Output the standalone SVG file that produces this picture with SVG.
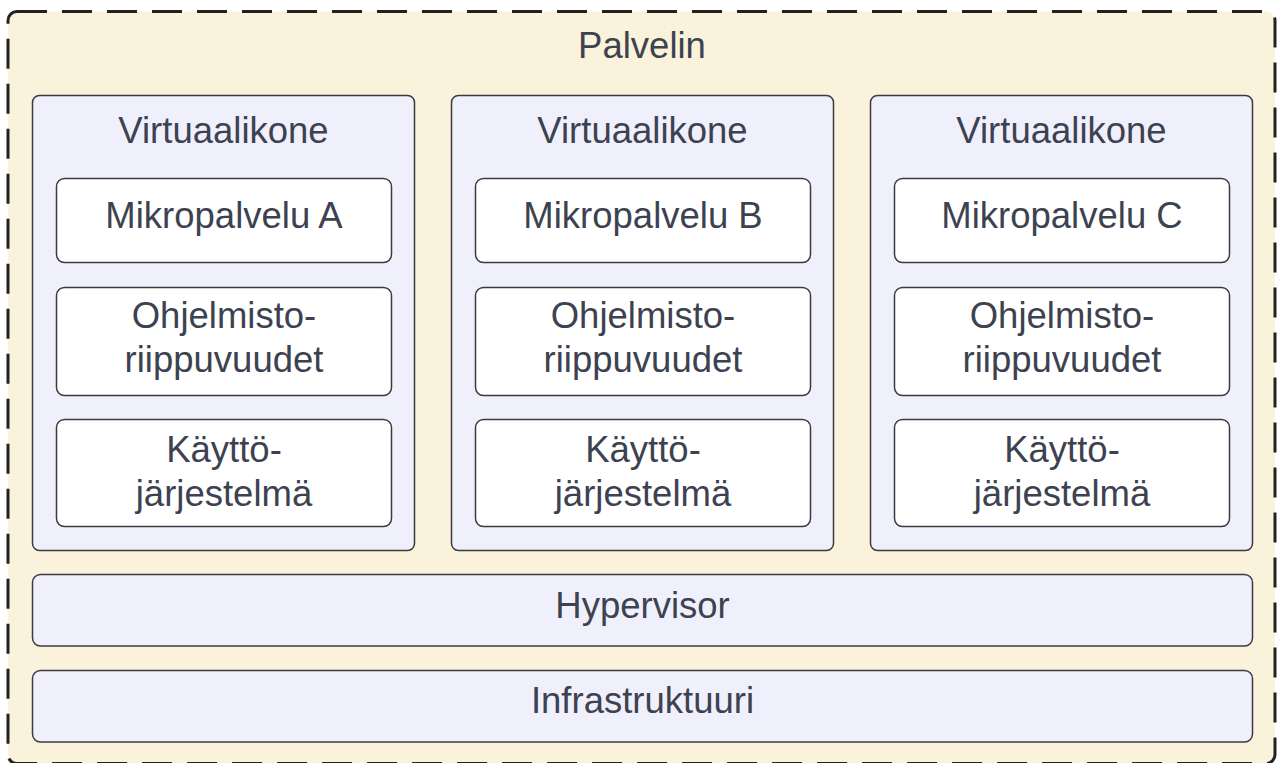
<svg xmlns="http://www.w3.org/2000/svg" width="1277" height="763" viewBox="0 0 1277 763">
  <style>
    .server { fill: #fbf2dc; stroke: #222; stroke-width: 3; stroke-dasharray: 30 15; }
    .vm { fill: #f0f0fd; stroke: #3a3a40; stroke-width: 1.5; }
    .layer { fill: #ffffff; stroke: #3a3a40; stroke-width: 1.5; }
    .band { fill: #f0f0fd; stroke: #3a3a40; stroke-width: 1.5; }
    text { font-family: "Liberation Sans", Arial, sans-serif; font-size: 36.5px; fill: #3d4250; text-anchor: middle; }
  </style>
  <rect width="1277" height="763" fill="#ffffff"/>

  <g id="palvelin">
    <rect class="server" x="8" y="11.5" width="1267" height="752" rx="9"/>
    <text x="642" y="57.7">Palvelin</text>
  </g>

  <g id="vm-a">
    <rect class="vm" x="32.5" y="95.5" width="382" height="455" rx="7"/>
    <text x="223.5" y="142.7">Virtuaalikone</text>
  </g>
  <g id="mikropalvelu-a">
    <rect class="layer" x="56.5" y="178.5" width="335" height="84" rx="8"/>
    <text x="224" y="228.3">Mikropalvelu A</text>
  </g>
  <g id="riippuvuudet-a">
    <rect class="layer" x="56.5" y="287.5" width="335" height="108" rx="8"/>
    <text x="224" y="327.7">Ohjelmisto-</text>
    <text x="224" y="371.7">riippuvuudet</text>
  </g>
  <g id="os-a">
    <rect class="layer" x="56.5" y="419.5" width="335" height="107" rx="8"/>
    <text x="224" y="461.7">Käyttö-</text>
    <text x="224" y="505.7">järjestelmä</text>
  </g>

  <g id="vm-b">
    <rect class="vm" x="451.5" y="95.5" width="382" height="455" rx="7"/>
    <text x="642.5" y="142.7">Virtuaalikone</text>
  </g>
  <g id="mikropalvelu-b">
    <rect class="layer" x="475.5" y="178.5" width="335" height="84" rx="8"/>
    <text x="643" y="228.3">Mikropalvelu B</text>
  </g>
  <g id="riippuvuudet-b">
    <rect class="layer" x="475.5" y="287.5" width="335" height="108" rx="8"/>
    <text x="643" y="327.7">Ohjelmisto-</text>
    <text x="643" y="371.7">riippuvuudet</text>
  </g>
  <g id="os-b">
    <rect class="layer" x="475.5" y="419.5" width="335" height="107" rx="8"/>
    <text x="643" y="461.7">Käyttö-</text>
    <text x="643" y="505.7">järjestelmä</text>
  </g>

  <g id="vm-c">
    <rect class="vm" x="870.5" y="95.5" width="382" height="455" rx="7"/>
    <text x="1061.5" y="142.7">Virtuaalikone</text>
  </g>
  <g id="mikropalvelu-c">
    <rect class="layer" x="894.5" y="178.5" width="335" height="84" rx="8"/>
    <text x="1062" y="228.3">Mikropalvelu C</text>
  </g>
  <g id="riippuvuudet-c">
    <rect class="layer" x="894.5" y="287.5" width="335" height="108" rx="8"/>
    <text x="1062" y="327.7">Ohjelmisto-</text>
    <text x="1062" y="371.7">riippuvuudet</text>
  </g>
  <g id="os-c">
    <rect class="layer" x="894.5" y="419.5" width="335" height="107" rx="8"/>
    <text x="1062" y="461.7">Käyttö-</text>
    <text x="1062" y="505.7">järjestelmä</text>
  </g>

  <g id="hypervisor">
    <rect class="band" x="32.5" y="574.5" width="1220" height="71.5" rx="8"/>
    <text x="642.5" y="617.7">Hypervisor</text>
  </g>
  <g id="infrastruktuuri">
    <rect class="band" x="32.5" y="670.5" width="1220" height="71.5" rx="8"/>
    <text x="642.5" y="713.3">Infrastruktuuri</text>
  </g>

  <g id="connectors"/>
</svg>
